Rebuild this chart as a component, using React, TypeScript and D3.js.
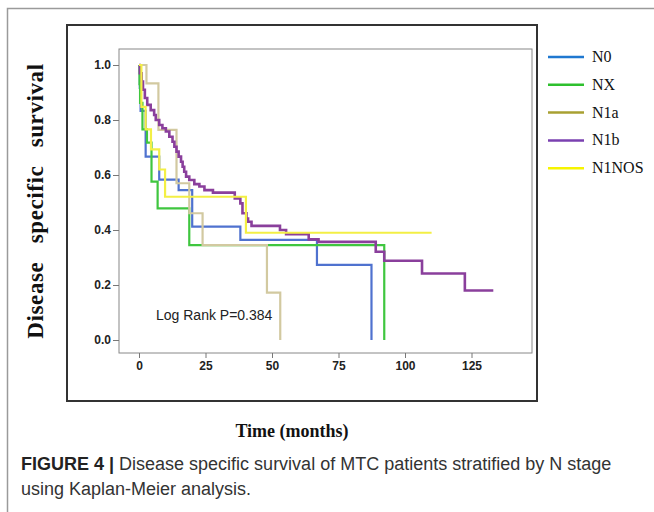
import React, { useEffect, useRef } from 'react';
import * as d3 from 'd3';

// series in legend order
const seriesNames = ['N0', 'NX', 'N1a', 'N1b', 'N1NOS'];
const lineColors = ['#4f72cf', '#3fc63f', '#d2c9a0', '#8a3f9c', '#f3ef45'];
const legendColors = ['#1f78d0', '#2ec02e', '#a8a032', '#7a40b0', '#f6f400'];

// [months, survival] at each step
const n0Steps = [[0, 1], [0.3, 0.917], [0.6, 0.833], [2.5, 0.667], [7.6, 0.583], [14.9, 0.545], [20, 0.412], [38.1, 0.364], [66.9, 0.273], [87.4, 0]];
const nxSteps = [[0, 1], [0.2, 0.93], [0.4, 0.862], [1.3, 0.766], [3.0, 0.718], [4.7, 0.576], [7.0, 0.479], [18.9, 0.345], [92.2, 0]];
const n1aSteps = [[0, 1], [2.8, 0.933], [7.3, 0.764], [14.1, 0.57], [18.9, 0.461], [23.9, 0.345], [48.1, 0.172], [53.1, 0]];
const n1bSteps = [
  [0, 1], [0.3, 0.97], [1, 0.94], [1.5, 0.91], [2.2, 0.88], [3.1, 0.855], [4.4, 0.836], [5.7, 0.818], [6.3, 0.8],
  [7.6, 0.782], [8.8, 0.77], [10.1, 0.758], [11.4, 0.739], [12.6, 0.721], [13.3, 0.703], [14.1, 0.685],
  [14.9, 0.667], [15.8, 0.648], [16.4, 0.63], [17, 0.612], [17.7, 0.594], [18.9, 0.582], [20.8, 0.567],
  [22.7, 0.558], [24.6, 0.545], [27.8, 0.536], [36, 0.515], [38.1, 0.497], [38.9, 0.461], [40.4, 0.442],
  [41, 0.43], [42.3, 0.415], [53, 0.4], [55.3, 0.385], [63.8, 0.366], [67.5, 0.357], [89, 0.321],
  [92.2, 0.288], [106.4, 0.242], [122.5, 0.18], [133.2, 0.18],
];
const n1nosSteps = [[0, 1], [0.9, 0.848], [2.5, 0.766], [4.5, 0.693], [7.6, 0.62], [9.8, 0.521], [40.2, 0.39], [110, 0.39]];
const allSteps = [n0Steps, nxSteps, n1aSteps, n1bSteps, n1nosSteps];

const xTicks = [0, 25, 50, 75, 100, 125];
const yTicks = [0, 0.2, 0.4, 0.6, 0.8, 1.0];

const App = () => {
  const svgRef = useRef(null);

  useEffect(() => {
    const svg = d3.select(svgRef.current);
    svg.selectAll('*').remove();

    const plot = { left: 119, top: 49, right: 532, bottom: 353 };
    const x = d3.scaleLinear().domain([0, 125]).range([139, 471.5]);
    const y = d3.scaleLinear().domain([0, 1]).range([340, 65]);

    svg.append('rect').attr('width', 654).attr('height', 512).attr('fill', '#fff');

    // outer figure frame
    svg.append('rect')
      .attr('x', 7.5).attr('y', 8.5).attr('width', 700).attr('height', 600)
      .attr('fill', 'none').attr('stroke', '#9a9a9a').attr('stroke-width', 1.5);

    // black box around the chart
    svg.append('rect')
      .attr('x', 67).attr('y', 25).attr('width', 470).attr('height', 376)
      .attr('fill', 'none').attr('stroke', '#333').attr('stroke-width', 2);

    // plot frame
    svg.append('rect')
      .attr('x', plot.left).attr('y', plot.top)
      .attr('width', plot.right - plot.left).attr('height', plot.bottom - plot.top)
      .attr('fill', 'none').attr('stroke', '#888').attr('stroke-width', 1);

    const yAxis = d3.axisLeft(y).tickValues(yTicks).tickFormat(d3.format('.1f')).tickSize(6).tickPadding(2);
    const xAxis = d3.axisBottom(x).tickValues(xTicks).tickFormat(d3.format('d')).tickSize(5).tickPadding(3);

    const gy = svg.append('g').attr('transform', `translate(${plot.left},0)`).call(yAxis);
    const gx = svg.append('g').attr('transform', `translate(0,${plot.bottom})`).call(xAxis);
    [gy, gx].forEach(g => {
      g.select('.domain').remove();
      g.selectAll('.tick line').attr('stroke', '#777');
      g.selectAll('text')
        .attr('fill', '#222')
        .style('font-family', 'Liberation Sans, Arial, sans-serif')
        .style('font-weight', 'bold')
        .style('font-size', '12px');
    });

    const lineGen = d3.line()
      .x(d => x(d[0]))
      .y(d => y(d[1]))
      .curve(d3.curveStepAfter);

    allSteps.forEach((steps, i) => {
      svg.append('path')
        .datum(steps)
        .attr('fill', 'none')
        .attr('stroke', lineColors[i])
        .attr('stroke-width', i === 3 ? 2.6 : 2.2)
        .attr('d', lineGen);
    });

    svg.append('text')
      .attr('x', 156).attr('y', 320)
      .style('font-family', 'Liberation Sans, Arial, sans-serif')
      .style('font-size', '14px')
      .attr('fill', '#222')
      .text('Log Rank P=0.384');

    // legend
    seriesNames.forEach((name, i) => {
      const ly = 57 + i * 27.8;
      svg.append('line')
        .attr('x1', 548).attr('x2', 584).attr('y1', ly).attr('y2', ly)
        .attr('stroke', legendColors[i]).attr('stroke-width', 2.5);
      svg.append('text')
        .attr('x', 592).attr('y', ly + 5)
        .style('font-family', 'Liberation Serif, Times New Roman, serif')
        .style('font-size', '16px')
        .attr('fill', '#111')
        .text(name);
    });

    svg.append('text')
      .attr('transform', 'translate(43,201) rotate(-90)')
      .attr('text-anchor', 'middle')
      .style('font-family', 'Liberation Serif, Times New Roman, serif')
      .style('font-weight', 'bold')
      .style('font-size', '23px')
      .style('letter-spacing', '0.6px')
      .style('word-spacing', '12px')
      .attr('fill', '#111')
      .text('Disease specific survival');

    svg.append('text')
      .attr('x', 292).attr('y', 437)
      .attr('text-anchor', 'middle')
      .style('font-family', 'Liberation Serif, Times New Roman, serif')
      .style('font-weight', 'bold')
      .style('font-size', '18px')
      .attr('fill', '#111')
      .text('Time (months)');

    const cap = svg.append('g')
      .style('font-family', 'Liberation Sans, Arial, sans-serif')
      .style('font-size', '18px')
      .attr('fill', '#333');
    const line1 = cap.append('text').attr('x', 21).attr('y', 470);
    line1.append('tspan').style('font-weight', 'bold').attr('fill', '#222').text('FIGURE 4 |');
    line1.append('tspan').text(' Disease specific survival of MTC patients stratified by N stage');
    cap.append('text').attr('x', 21).attr('y', 495).text('using Kaplan-Meier analysis.');
  }, []);

  return <svg ref={svgRef} width={654} height={512} style={{ position: 'absolute', left: 0, top: 0 }} />;
};

export default App;
